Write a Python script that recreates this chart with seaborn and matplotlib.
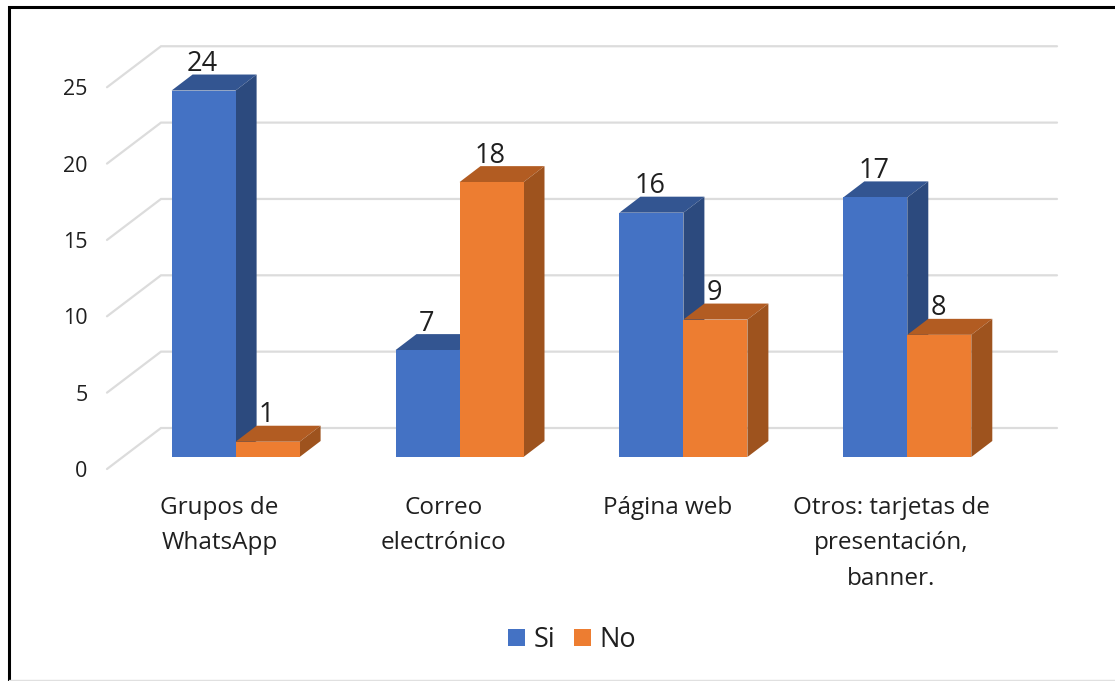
import matplotlib
matplotlib.use('Agg')
import matplotlib.pyplot as plt
import matplotlib.transforms as mtrans
from matplotlib.lines import Line2D
import pandas as pd
import seaborn as sns

medios = ['Grupos de\nWhatsApp', 'Correo\nelectrónico', 'Página web',
          'Otros: tarjetas de\npresentación,\nbanner.']
si = [24, 7, 16, 17]
no = [1, 18, 9, 8]
ticks_y = [0, 5, 10, 15, 20, 25]

color_si = '#4472C4'
color_no = '#ED7D31'
caras = {0: ('#335591', '#2C4A7E'), 1: ('#B25C22', '#9E531E')}
color_texto = '#1F1F1F'
color_rejilla = '#DCDCDC'

W, H = 1115, 681
X0, X_PASO = 235.6, 223.9   # pixel del centro del primer grupo y paso entre grupos
Y0, Y_UNIDAD = 457, 15.27

df = pd.DataFrame({
    'medio': medios * 2,
    'valor': si + no,
    'respuesta': ['Si'] * 4 + ['No'] * 4,
})

sns.set_style('white')
plt.rcParams['font.family'] = ['Open Sans', 'DejaVu Sans']

fig = plt.figure(figsize=(W / 100, H / 100), dpi=100)
ax = fig.add_axes([(X0 - X_PASO / 2) / W, (H - Y0) / H, 4 * X_PASO / W, 25 * Y_UNIDAD / H])

sns.barplot(data=df, x='medio', y='valor', hue='respuesta', palette=[color_si, color_no],
            width=128 / X_PASO, gap=0, ax=ax, zorder=3, linewidth=0, saturation=1)

ax.set_xlim(-0.5, 3.5)
ax.set_ylim(0, 25)
ax.set_xlabel('')
ax.set_ylabel('')
sns.despine(ax=ax, left=True, bottom=True, top=True, right=True)
ax.patch.set_alpha(0)


def px_x(p):
    return (p - X0) / X_PASO


def alto(p):
    return p / Y_UNIDAD


# rejilla en perspectiva: pared lateral y pared de fondo
for v in ticks_y:
    ax.plot([px_x(107), px_x(161), px_x(1057)],
            [v - alto(12), v + alto(29), v + alto(29)],
            color=color_rejilla, lw=1.6, zorder=1, clip_on=False, solid_joinstyle='miter')

# caras superior y lateral de cada barra
prof_x, prof_y = 21 / X_PASO, alto(16)
for n, barras in enumerate(ax.containers):
    for b in barras:
        x1, x2 = b.get_x(), b.get_x() + b.get_width()
        h = b.get_height()
        b.set_zorder(3 + 2 * n)
        ax.fill([x1, x2, x2 + prof_x, x1 + prof_x], [h, h, h + prof_y, h + prof_y],
                color=caras[n][0], lw=0, zorder=2 + 2 * n, clip_on=False)
        ax.fill([x2, x2 + prof_x, x2 + prof_x, x2], [0, prof_y, h + prof_y, h],
                color=caras[n][1], lw=0, zorder=2 + 2 * n, clip_on=False)
        ax.annotate(f'{h:.0f}', ((x1 + x2) / 2, h), xytext=(-1, 14), textcoords='offset points',
                    ha='center', va='baseline', fontsize=19.5, color=color_texto,
                    zorder=10, annotation_clip=False)

ax.set_yticks(ticks_y)
ax.tick_params(axis='both', length=0)
ax.tick_params(axis='y', pad=26, labelsize=15.5, labelcolor=color_texto)
ax.tick_params(axis='x', pad=28, labelsize=17.5, labelcolor=color_texto)

desp_y = mtrans.ScaledTranslation(0, -12 / 100, fig.dpi_scale_trans)
for lab in ax.get_yticklabels():
    lab.set_transform(lab.get_transform() + desp_y)
desp_x = mtrans.ScaledTranslation(-16 / 100, 0, fig.dpi_scale_trans)
for lab in ax.get_xticklabels():
    lab.set_transform(lab.get_transform() + desp_x)
    lab.set_linespacing(1.63)

ax.legend(loc='center', bbox_to_anchor=(572 / W, (H - 640) / H), bbox_transform=fig.transFigure,
          ncol=2, frameon=False, fontsize=19.5, handlelength=0.62, handleheight=0.62,
          handletextpad=0.3, columnspacing=0.7, labelcolor=color_texto, title=None)

# marco de la imagen
fig.add_artist(Line2D([9 / W, 9 / W, 1], [0, (H - 7) / H, (H - 7) / H], color='black', lw=2.2,
                      solid_joinstyle='miter'))
fig.add_artist(Line2D([9 / W, 1], [0.8 / H, 0.8 / H], color='#E0E0E0', lw=1))

fig.savefig('out.png', dpi=100)
